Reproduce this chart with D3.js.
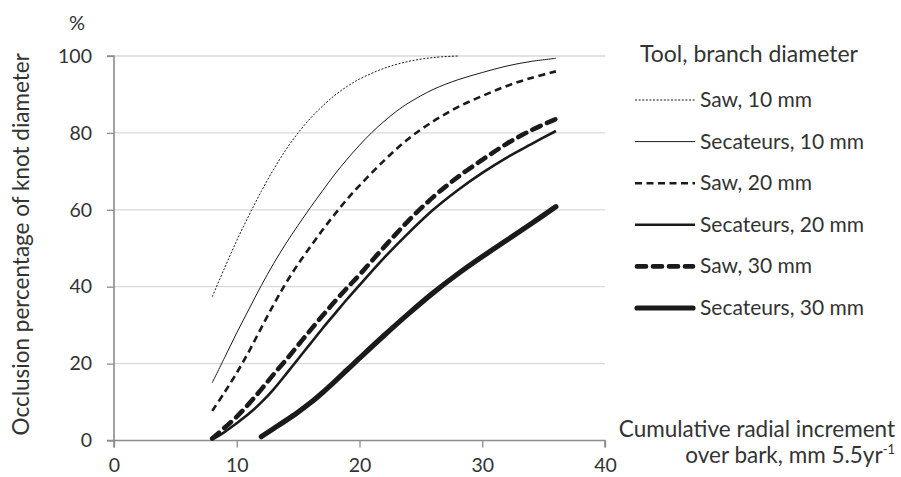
<!DOCTYPE html>
<html>
<head>
<meta charset="utf-8">
<script src="https://cdn.jsdelivr.net/npm/d3@7"></script>
<style>
  html, body { margin: 0; padding: 0; background: #fff; }
  svg { display: block; }
  text { font-family: Lato, "Open Sans", sans-serif; fill: #333; }
</style>
</head>
<body>
<svg id="chart" width="901" height="477"></svg>
<script>
// ---- data ----
const xTicks = [0, 10, 20, 30, 40];
const yTicks = [0, 20, 40, 60, 80, 100];

const saw10X = [8, 9, 10, 11, 12, 13, 14, 15, 16, 17, 18, 19, 20, 22, 24, 26, 28];
const saw10Y = [37.4, 44.8, 52, 58.6, 64.8, 70.5, 75.6, 80, 83.8, 87, 89.8, 92.1, 94, 96.8, 98.6, 99.6, 100];

const sec10X = [8, 9, 10, 11, 12, 13, 14, 15, 16, 17, 18, 19, 20, 21, 22, 23, 24, 26, 28, 30, 32, 34, 36];
const sec10Y = [15, 21.5, 28, 34.2, 40.3, 46, 51.2, 56, 60.6, 65, 69.3, 73.2, 76.8, 80.1, 83, 85.6, 87.8, 91.3, 93.8, 95.7, 97.4, 98.6, 99.4];

const saw20X = [8, 9, 10, 11, 12, 13, 14, 15, 16, 17, 18, 19, 20, 22, 24, 26, 28, 30, 32, 34, 36];
const saw20Y = [7.7, 12.5, 17.6, 23.2, 29.3, 35.3, 40.9, 45.9, 50.4, 54.8, 58.9, 62.8, 66.3, 72.8, 78.5, 83, 86.7, 89.6, 92.2, 94.3, 96];

const sec20X = [8, 9, 10, 11, 12, 13, 14, 15, 16, 17, 18, 19, 20, 22, 24, 26, 28, 30, 32, 34, 36];
const sec20Y = [0.3, 2.2, 4.5, 7, 9.9, 13.3, 17.2, 21.2, 25.2, 29.2, 33, 36.8, 40.4, 47.5, 54, 60, 65.1, 69.6, 73.6, 77.1, 80.5];

const saw30X = [8, 9, 10, 11, 12, 13, 14, 15, 16, 17, 18, 19, 20, 22, 24, 26, 28, 30, 32, 34, 36];
const saw30Y = [0.5, 3.3, 6.2, 9.6, 13.3, 17.2, 20.9, 24.8, 28.7, 32.5, 36.2, 39.7, 43.1, 50.3, 57.2, 63.3, 68.5, 73, 77.2, 80.7, 83.6];

const sec30X = [12, 13, 14, 15, 16, 17, 18, 19, 20, 22, 24, 26, 28, 30, 32, 34, 36];
const sec30Y = [1, 3.1, 5.2, 7.4, 9.8, 12.5, 15.4, 18.4, 21.4, 27.3, 33, 38.4, 43.3, 47.8, 52.1, 56.4, 60.8];

const seriesNames = ["Saw, 10 mm", "Secateurs, 10 mm", "Saw, 20 mm", "Secateurs, 20 mm", "Saw, 30 mm", "Secateurs, 30 mm"];
const seriesX = [saw10X, sec10X, saw20X, sec20X, saw30X, sec30X];
const seriesY = [saw10Y, sec10Y, saw20Y, sec20Y, saw30Y, sec30Y];

const yAxisTitle = "Occlusion percentage of knot diameter";
const yUnit = "%";
const xTitle1 = "Cumulative radial increment";
const xTitle2 = "over bark, mm 5.5yr";
const xTitleSup = "-1";
const legendTitle = "Tool, branch diameter";

// ---- styles ----
const styles = [
  { w: 1.0, dash: "2,1.6", cap: "butt" },
  { w: 1.0, dash: null, cap: "butt" },
  { w: 2.6, dash: "7,4.5", cap: "butt" },
  { w: 2.6, dash: null, cap: "butt" },
  { w: 4.6, dash: "9,7", cap: "round" },
  { w: 5.2, dash: null, cap: "round" }
];

const svg = d3.select("#chart");
const x = d3.scaleLinear().domain([0, 40]).range([114, 605]);
const y = d3.scaleLinear().domain([0, 100]).range([440.5, 56]);

// gridlines
svg.append("g").selectAll("line").data(yTicks.filter(d => d > 0)).join("line")
  .attr("x1", x(0)).attr("x2", x(40))
  .attr("y1", d => y(d)).attr("y2", d => y(d))
  .attr("stroke", "#d9d9d9").attr("stroke-width", 1.3);

// axes
const axisColor = "#8c8c8c";
const yAxis = svg.append("g").attr("transform", `translate(${x(0)},0)`)
  .call(d3.axisLeft(y).tickValues(yTicks).tickSize(7).tickPadding(15));
const xAxis = svg.append("g").attr("transform", `translate(0,${y(0)})`)
  .call(d3.axisBottom(x).tickValues(xTicks).tickSize(7).tickPadding(11));
[yAxis, xAxis].forEach(a => {
  a.select(".domain").attr("stroke", axisColor).attr("stroke-width", 1.6);
  a.selectAll(".tick line").attr("stroke", axisColor).attr("stroke-width", 1.3);
  a.selectAll(".tick text").attr("font-family", "Lato, 'Open Sans', sans-serif")
    .attr("font-size", 19.5).attr("fill", "#333");
});
yAxis.select(".domain").attr("d", `M-7,${y(0)}H0V${y(100)}H-7`);
xAxis.select(".domain").attr("d", `M${x(0)},7V0H${x(40)}V7`);

// lines
const line = d3.line().x(d => x(d[0])).y(d => y(d[1])).curve(d3.curveCatmullRom.alpha(0.5));
seriesX.forEach((xs, i) => {
  const pts = xs.map((v, j) => [v, seriesY[i][j]]);
  const s = styles[i];
  svg.append("path").datum(pts)
    .attr("d", line)
    .attr("fill", "none")
    .attr("stroke", "#1a1a1a")
    .attr("stroke-width", s.w)
    .attr("stroke-linecap", s.cap)
    .attr("stroke-dasharray", s.dash);
});

// y axis title
svg.append("text")
  .attr("transform", `translate(29,${(y(0) + 48) / 2}) rotate(-90)`)
  .attr("text-anchor", "middle")
  .attr("font-size", 22.5)
  .text(yAxisTitle);
svg.append("text").attr("x", 77).attr("y", 30).attr("text-anchor", "middle")
  .attr("font-size", 20).text(yUnit);

// x axis title
svg.append("text").attr("x", 895).attr("y", 437).attr("text-anchor", "end")
  .attr("font-size", 22.5).text(xTitle1);
const t2 = svg.append("text").attr("x", 895).attr("y", 463).attr("text-anchor", "end")
  .attr("font-size", 22.5);
t2.append("tspan").text(xTitle2);
t2.append("tspan").attr("font-size", 13).attr("dy", -9).text(xTitleSup);

// legend
svg.append("text").attr("x", 640).attr("y", 62).attr("font-size", 23).text(legendTitle);
const legendY0 = 100, legendStep = 41.6;
seriesNames.forEach((name, i) => {
  const ly = legendY0 + i * legendStep;
  const s = styles[i];
  svg.append("line")
    .attr("x1", i >= 4 ? 637 : 635).attr("x2", i >= 4 ? 693 : 695)
    .attr("y1", ly).attr("y2", ly)
    .attr("stroke", "#1a1a1a").attr("stroke-width", s.w)
    .attr("stroke-linecap", s.cap)
    .attr("stroke-dasharray", s.dash);
  svg.append("text").attr("x", 700).attr("y", ly + 7).attr("font-size", 21).text(name);
});
</script>
</body>
</html>
